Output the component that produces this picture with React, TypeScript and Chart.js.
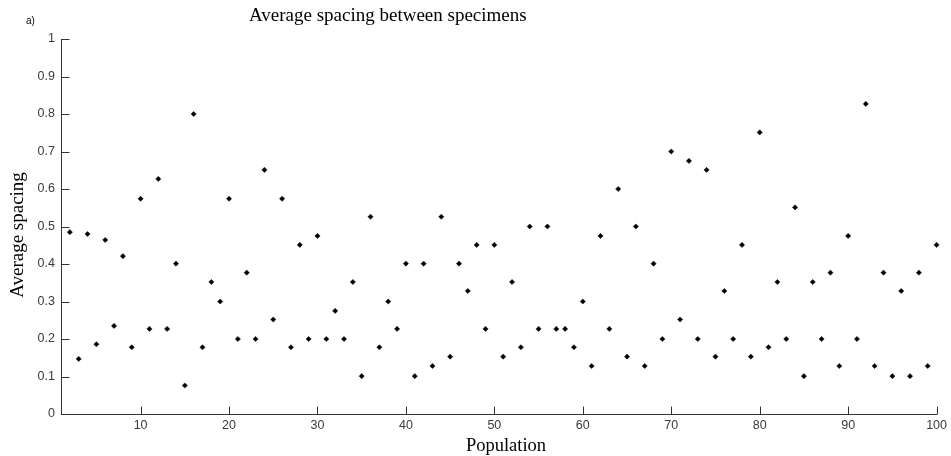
import React, { useEffect, useRef } from "react";
import { Chart, registerables } from "chart.js";

Chart.register(...registerables);

const populations = [
  2, 3, 4, 5, 6, 7, 8, 9, 10,
  11, 12, 13, 14, 15, 16, 17, 18, 19, 20,
  21, 22, 23, 24, 25, 26, 27, 28, 29, 30,
  31, 32, 33, 34, 35, 36, 37, 38, 39, 40,
  41, 42, 43, 44, 45, 46, 47, 48, 49, 50,
  51, 52, 53, 54, 55, 56, 57, 58, 59, 60,
  61, 62, 63, 64, 65, 66, 67, 68, 69, 70,
  71, 72, 73, 74, 75, 76, 77, 78, 79, 80,
  81, 82, 83, 84, 85, 86, 87, 88, 89, 90,
  91, 92, 93, 94, 95, 96, 97, 98, 99, 100,
];

const averageSpacing = [
  0.485, 0.147, 0.48, 0.186, 0.464, 0.235, 0.421, 0.178, 0.574,
  0.227, 0.627, 0.227, 0.401, 0.076, 0.8, 0.178, 0.352, 0.3, 0.574,
  0.2, 0.377, 0.2, 0.651, 0.252, 0.574, 0.178, 0.451, 0.2, 0.475,
  0.2, 0.275, 0.2, 0.352, 0.101, 0.526, 0.178, 0.3, 0.227, 0.401,
  0.101, 0.401, 0.128, 0.526, 0.153, 0.401, 0.328, 0.451, 0.227, 0.451,
  0.153, 0.352, 0.178, 0.5, 0.227, 0.5, 0.227, 0.227, 0.178, 0.3,
  0.128, 0.475, 0.227, 0.6, 0.153, 0.5, 0.128, 0.401, 0.2, 0.7,
  0.252, 0.675, 0.2, 0.651, 0.153, 0.328, 0.2, 0.451, 0.153, 0.751,
  0.178, 0.352, 0.2, 0.551, 0.101, 0.352, 0.2, 0.377, 0.128, 0.475,
  0.2, 0.827, 0.128, 0.377, 0.101, 0.328, 0.101, 0.377, 0.128, 0.451,
];

const xTickValues = [10, 20, 30, 40, 50, 60, 70, 80, 90, 100];
const yTickValues = [0, 0.1, 0.2, 0.3, 0.4, 0.5, 0.6, 0.7, 0.8, 0.9, 1];
const yTickLabels = ["0", "0.1", "0.2", "0.3", "0.4", "0.5", "0.6", "0.7", "0.8", "0.9", "1"];

const chartTitle = "Average spacing between specimens";
const panelLabel = "a)";
const xAxisTitle = "Population";
const yAxisTitle = "Average spacing";

const AXIS_COLOR = "#333333";
const TICK_TEXT = "#3a3a3a";
const SERIF = '"Liberation Serif", "Times New Roman", serif';
const SANS = '"Liberation Sans", Arial, sans-serif';

export default function App() {
  const canvasRef = useRef<HTMLCanvasElement>(null);

  useEffect(() => {
    const canvas = canvasRef.current;
    if (!canvas) return;

    const decorPlugin = {
      id: "decor",
      afterDraw(chart: any) {
        const c = chart.ctx as CanvasRenderingContext2D;
        const xs = chart.scales.x;
        const ys = chart.scales.y;
        const area = chart.chartArea;
        const tickLen = 8;

        c.save();
        // inward tick marks
        c.strokeStyle = AXIS_COLOR;
        c.lineWidth = 1;
        c.beginPath();
        for (const v of yTickValues) {
          const py = Math.round(ys.getPixelForValue(v)) + 0.5;
          const lx = Math.round(area.left) + 0.5;
          c.moveTo(lx, py);
          c.lineTo(lx + tickLen, py);
        }
        for (const v of xTickValues) {
          const px = Math.round(xs.getPixelForValue(v)) + 0.5;
          const by = Math.round(area.bottom) + 0.5;
          c.moveTo(px, by);
          c.lineTo(px, by - tickLen);
        }
        c.stroke();

        // chart title
        c.fillStyle = "#000";
        c.textAlign = "left";
        c.textBaseline = "alphabetic";
        c.font = `19px ${SERIF}`;
        c.fillText(chartTitle, 249, 21);

        // panel label
        c.font = `10px ${SANS}`;
        c.fillText(panelLabel, 26, 24);

        // x axis title
        c.textAlign = "center";
        c.font = `18.5px ${SERIF}`;
        c.fillText(xAxisTitle, 506, 451);

        // y axis title
        c.translate(23, 235);
        c.rotate(-Math.PI / 2);
        c.textAlign = "center";
        c.textBaseline = "alphabetic";
        c.font = `19px ${SERIF}`;
        c.fillText(yAxisTitle, 0, 0);
        c.restore();
      },
    };

    const chart = new Chart(canvas, {
      type: "scatter",
      data: {
        datasets: [
          {
            data: populations.map((p, i) => ({ x: p, y: averageSpacing[i] })),
            pointStyle: "rectRot",
            pointRadius: 2.6,
            pointHoverRadius: 2.6,
            backgroundColor: "#000",
            borderColor: "#000",
            borderWidth: 0.5,
            clip: false,
          } as any,
        ],
      },
      options: {
        responsive: false,
        animation: false,
        devicePixelRatio: 1,
        layout: { padding: { left: 0, right: 9, top: 39, bottom: 0 } },
        plugins: {
          legend: { display: false },
          tooltip: { enabled: false },
          title: { display: false },
        },
        scales: {
          x: {
            type: "linear",
            min: 1,
            max: 100,
            afterBuildTicks: (s: any) => {
              s.ticks = xTickValues.map((v) => ({ value: v }));
            },
            afterFit: (s: any) => {
              s.height = 42;
            },
            grid: { display: false, drawTicks: false },
            border: { display: true, color: AXIS_COLOR, width: 1 },
            ticks: {
              font: { family: SANS, size: 12.5 },
              color: TICK_TEXT,
              padding: 4,
              maxRotation: 0,
              autoSkip: false,
            },
            title: { display: false },
          },
          y: {
            type: "linear",
            min: 0,
            max: 1,
            afterBuildTicks: (s: any) => {
              s.ticks = yTickValues.map((v) => ({ value: v }));
            },
            afterFit: (s: any) => {
              s.width = 61;
            },
            grid: { display: false, drawTicks: false },
            border: { display: true, color: AXIS_COLOR, width: 1 },
            ticks: {
              font: { family: SANS, size: 12.5 },
              color: TICK_TEXT,
              padding: 6,
              autoSkip: false,
              callback: (_v: any, i: number) => yTickLabels[i],
            },
          },
        },
      } as any,
      plugins: [decorPlugin],
    });

    return () => chart.destroy();
  }, []);

  return (
    <div style={{ position: "absolute", left: 0, top: 0, width: 951, height: 456, background: "#fff" }}>
      <canvas ref={canvasRef} width={951} height={456} style={{ display: "block", width: 951, height: 456 }} />
    </div>
  );
}
